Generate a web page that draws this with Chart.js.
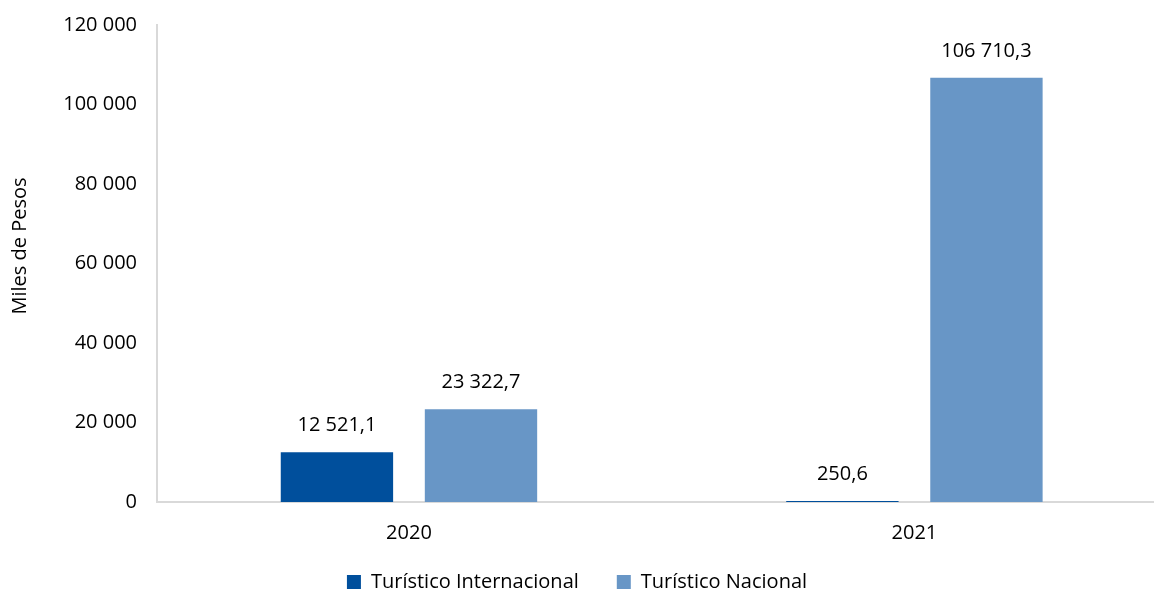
<!DOCTYPE html>
<html>
<head>
<meta charset="utf-8">
<script src="https://cdn.jsdelivr.net/npm/chart.js@4.4.1/dist/chart.umd.min.js"></script>
<style>
  html, body { margin: 0; padding: 0; background: #fff; }
  #wrap { width: 1154px; height: 594px; position: relative; }
</style>
</head>
<body>
<div id="wrap"><canvas id="chart"></canvas></div>
<script>
const categories = ["2020", "2021"];
const seriesNames = ["Turístico Internacional", "Turístico Nacional"];
const internacional = [12521.1, 250.6];
const nacional = [23322.7, 106710.3];
const yTicks = [0, 20000, 40000, 60000, 80000, 100000, 120000];
const yTitle = "Miles de Pesos";

const colors = ["#004f9c", "#6896c6"];
const fontFamily = "'Open Sans', 'Noto Sans', sans-serif";
const fontSize = 20;

function fmt(v, decimals) {
  const parts = v.toFixed(decimals).split(".");
  parts[0] = parts[0].replace(/\B(?=(\d{3})+(?!\d))/g, " ");
  return parts.join(",");
}

// value labels above the bars + the y title (drawn by hand to place it like the original)
const extras = {
  id: "extras",
  afterLayout(chart) {
    // pull the legend up a bit so it sits closer to the year labels
    chart.legend.top -= 14;
    chart.legend.bottom -= 14;
  },
  afterDatasetsDraw(chart) {
    const ctx = chart.ctx;
    ctx.save();
    ctx.font = fontSize + "px " + fontFamily;
    ctx.fillStyle = "#000";
    ctx.textAlign = "center";
    ctx.textBaseline = "middle";
    chart.data.datasets.forEach((ds, di) => {
      chart.getDatasetMeta(di).data.forEach((bar, i) => {
        ctx.fillText(fmt(ds.data[i].y, 1), bar.x, bar.y - 27);
      });
    });
    ctx.translate(20, 246);
    ctx.rotate(-Math.PI / 2);
    ctx.fillText(yTitle, 0, 0);
    ctx.restore();
  }
};

const toPoints = arr => arr.map((v, i) => ({ x: i, y: v }));

const ctx = document.getElementById("chart").getContext("2d");
new Chart(ctx, {
  type: "bar",
  data: {
    datasets: [
      { label: seriesNames[0], data: toPoints(internacional), backgroundColor: colors[0] },
      { label: seriesNames[1], data: toPoints(nacional), backgroundColor: colors[1] }
    ]
  },
  options: {
    responsive: true,
    maintainAspectRatio: false,
    animation: false,
    categoryPercentage: 0.57,
    barPercentage: 0.78,
    layout: { padding: { top: 25, right: 0, bottom: -22, left: 0 } },
    plugins: {
      tooltip: { enabled: false },
      legend: {
        position: "bottom",
        labels: {
          font: { size: fontSize, family: fontFamily },
          color: "#000",
          boxWidth: 14,
          boxHeight: 14,
          padding: 38
        }
      }
    },
    scales: {
      x: {
        type: "linear",
        offset: false,
        min: -0.4985,
        max: 1.474,
        grid: { display: false, offset: false, drawTicks: false },
        border: { display: true, color: "#d9d9d9", width: 2 },
        afterBuildTicks: scale => {
          scale.ticks = categories.map((c, i) => ({ value: i }));
        },
        afterFit: scale => { scale.height = 46; },
        ticks: {
          font: { size: fontSize, family: fontFamily },
          color: "#000",
          padding: 19,
          callback: v => categories[v]
        }
      },
      y: {
        min: 0,
        max: 120000,
        grid: { display: false, drawTicks: false },
        border: { display: true, color: "#d9d9d9", width: 2 },
        afterBuildTicks: scale => {
          scale.ticks = yTicks.map(v => ({ value: v }));
        },
        afterFit: scale => { scale.width = 157; },
        ticks: {
          font: { size: fontSize, family: fontFamily, lineHeight: 0.5 },
          color: "#000",
          padding: 20,
          callback: v => fmt(v, 0)
        }
      }
    }
  },
  plugins: [extras]
});
</script>
</body>
</html>
